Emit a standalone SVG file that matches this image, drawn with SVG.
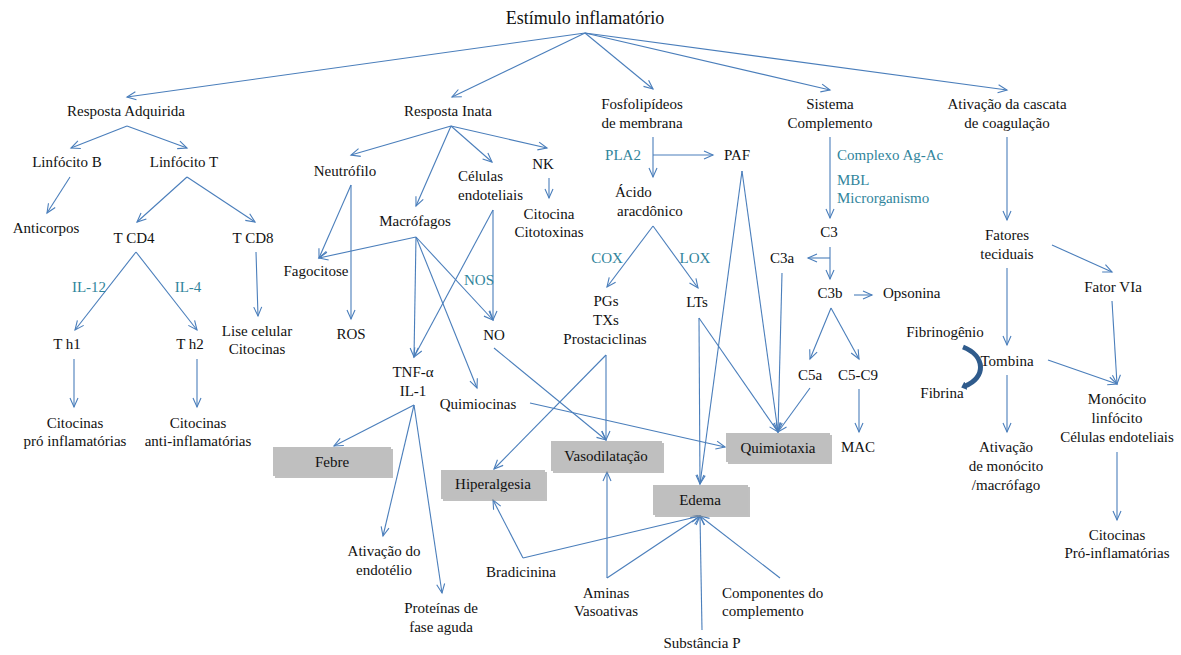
<svg xmlns="http://www.w3.org/2000/svg" width="1181" height="655" viewBox="0 0 1181 655" font-family="'Liberation Serif', 'Times New Roman', serif">
<defs>
<style>
.t{font-family:'Liberation Serif','Times New Roman',serif;font-size:15px;fill:#111;text-anchor:middle}
.s{text-anchor:start}
.teal{fill:#31859c}
.c line{stroke:#4a7ebb;stroke-width:1.1;fill:none;marker-end:url(#a)}
.box{fill:#bfbfbf}
.sh{fill:#8c8c8c;opacity:0.55}
</style>
<marker id="a" markerWidth="12" markerHeight="10" refX="10" refY="5" orient="auto" markerUnits="userSpaceOnUse" viewBox="0 0 12 10">
<path d="M1,1 L10,5 L1,9" fill="none" stroke="#4a7ebb" stroke-width="1.1"/>
</marker>
<marker id="b" markerWidth="8" markerHeight="9" refX="1" refY="4.5" orient="auto" markerUnits="userSpaceOnUse" viewBox="0 0 8 9">
<path d="M0,0 L5,4.5 L0,9 z" fill="#2f5b8c"/>
</marker>
</defs>
<rect width="1181" height="655" fill="#fff"/>

<g id="connectors" class="c">
<line x1="585" y1="33" x2="127" y2="97"/>
<line x1="585" y1="33" x2="452" y2="97"/>
<line x1="585" y1="33" x2="653" y2="89"/>
<line x1="585" y1="33" x2="830" y2="90"/>
<line x1="585" y1="33" x2="1007" y2="90"/>
<line x1="127" y1="126" x2="71" y2="148"/>
<line x1="127" y1="126" x2="187" y2="148"/>
<line x1="70" y1="177" x2="47" y2="213"/>
<line x1="187" y1="177" x2="137" y2="222"/>
<line x1="187" y1="177" x2="255" y2="222"/>
<line x1="136" y1="252" x2="75" y2="330"/>
<line x1="136" y1="252" x2="197" y2="330"/>
<line x1="256" y1="252" x2="258" y2="316"/>
<line x1="74" y1="359" x2="74" y2="407"/>
<line x1="197" y1="359" x2="197" y2="407"/>
<line x1="451" y1="126" x2="351" y2="155"/>
<line x1="451" y1="126" x2="416" y2="206"/>
<line x1="451" y1="126" x2="492" y2="162"/>
<line x1="451" y1="126" x2="547" y2="148"/>
<line x1="549" y1="178" x2="549" y2="198"/>
<line x1="351" y1="185" x2="319" y2="258"/>
<line x1="351" y1="185" x2="351" y2="319"/>
<line x1="416" y1="237" x2="319" y2="258"/>
<line x1="416" y1="237" x2="414" y2="357"/>
<line x1="416" y1="237" x2="477" y2="388"/>
<line x1="416" y1="237" x2="493" y2="320"/>
<line x1="493" y1="210" x2="414" y2="357"/>
<line x1="493" y1="210" x2="493" y2="320"/>
<line x1="414" y1="405" x2="334" y2="446"/>
<line x1="414" y1="405" x2="383" y2="536"/>
<line x1="414" y1="405" x2="442" y2="593"/>
<line x1="494" y1="348" x2="606" y2="440"/>
<line x1="530" y1="403" x2="725" y2="447"/>
<line x1="653" y1="137" x2="653" y2="177"/>
<line x1="653" y1="155" x2="713" y2="155"/>
<line x1="653" y1="226" x2="607" y2="287"/>
<line x1="653" y1="226" x2="698" y2="288"/>
<line x1="606" y1="355" x2="606" y2="440"/>
<line x1="606" y1="355" x2="494" y2="469"/>
<line x1="742" y1="171" x2="700" y2="484"/>
<line x1="742" y1="171" x2="778" y2="432"/>
<line x1="699" y1="318" x2="700" y2="484"/>
<line x1="699" y1="318" x2="778" y2="432"/>
<line x1="830" y1="137" x2="830" y2="218"/>
<line x1="830" y1="247" x2="830" y2="279"/>
<line x1="830" y1="258" x2="808" y2="258"/>
<line x1="782" y1="273" x2="778" y2="432"/>
<line x1="854" y1="295" x2="872" y2="295"/>
<line x1="831" y1="308" x2="810" y2="359"/>
<line x1="831" y1="308" x2="859" y2="359"/>
<line x1="810" y1="388" x2="778" y2="432"/>
<line x1="859" y1="389" x2="859" y2="432"/>
<line x1="1007" y1="137" x2="1007" y2="220"/>
<line x1="1007" y1="268" x2="1007" y2="345"/>
<line x1="1052" y1="245" x2="1112" y2="272"/>
<line x1="1112" y1="301" x2="1117" y2="384"/>
<line x1="1048" y1="360" x2="1117" y2="384"/>
<line x1="1007" y1="375" x2="1007" y2="432"/>
<line x1="1117" y1="452" x2="1117" y2="520"/>
<line x1="523" y1="558" x2="493" y2="500"/>
<line x1="523" y1="558" x2="700" y2="516"/>
<line x1="607" y1="578" x2="607" y2="472"/>
<line x1="607" y1="578" x2="700" y2="516"/>
<line x1="702" y1="630" x2="700" y2="516"/>
<line x1="780" y1="578" x2="700" y2="516"/>
<path d="M963,347 C986,356 986,378 965,386" fill="none" stroke="#2f5b8c" stroke-width="5" marker-end="url(#b)"/>
</g>

<g id="n-titulo"><text class="t" x="585" y="24" style="font-size:18px">Estímulo inflamatório</text></g>
<g id="n-adquirida"><text class="t" x="126" y="116">Resposta Adquirida</text></g>
<g id="n-linfb"><text class="t" x="67" y="167">Linfócito B</text></g>
<g id="n-linft"><text class="t" x="184" y="167">Linfócito T</text></g>
<g id="n-anticorpos"><text class="t" x="46" y="233">Anticorpos</text></g>
<g id="n-tcd4"><text class="t" x="134" y="243">T CD4</text></g>
<g id="n-tcd8"><text class="t" x="253" y="243">T CD8</text></g>
<g id="l-il12"><text class="t teal" x="89" y="292">IL-12</text></g>
<g id="l-il4"><text class="t teal" x="188" y="292">IL-4</text></g>
<g id="n-th1"><text class="t" x="67" y="349">T h1</text></g>
<g id="n-th2"><text class="t" x="190" y="349">T h2</text></g>
<g id="n-lise"><text class="t" x="257" y="336">Lise celular<tspan x="257" dy="18">Citocinas</tspan></text></g>
<g id="n-cit-pro"><text class="t" x="75" y="428">Citocinas<tspan x="75" dy="18">pró inflamatórias</tspan></text></g>
<g id="n-cit-anti"><text class="t" x="198" y="428">Citocinas<tspan x="198" dy="18">anti-inflamatórias</tspan></text></g>

<g id="n-inata"><text class="t" x="448" y="116">Resposta Inata</text></g>
<g id="n-neutrofilo"><text class="t" x="345" y="176">Neutrófilo</text></g>
<g id="n-celulas"><text class="t s" x="458" y="181">Células<tspan x="458" dy="19">endoteliais</tspan></text></g>
<g id="n-nk"><text class="t" x="543" y="169">NK</text></g>
<g id="n-citocina"><text class="t" x="549" y="219">Citocina<tspan x="549" dy="18">Citotoxinas</tspan></text></g>
<g id="n-macrofagos"><text class="t" x="415" y="226">Macrófagos</text></g>
<g id="n-fagocitose"><text class="t" x="316" y="276">Fagocitose</text></g>
<g id="n-ros"><text class="t" x="351" y="339">ROS</text></g>
<g id="l-nos"><text class="t teal" x="479" y="285">NOS</text></g>
<g id="n-no"><text class="t" x="494" y="340">NO</text></g>
<g id="n-tnf"><text class="t" x="413" y="377">TNF-α<tspan x="413" dy="19">IL-1</tspan></text></g>
<g id="n-quimiocinas"><text class="t" x="478" y="409">Quimiocinas</text></g>
<g id="n-ativ-endot"><text class="t" x="384" y="556">Ativação do<tspan x="384" dy="19">endotélio</tspan></text></g>
<g id="n-proteinas"><text class="t" x="441" y="613">Proteínas de<tspan x="441" dy="19">fase aguda</tspan></text></g>
<g id="n-bradicinina"><text class="t" x="521" y="577">Bradicinina</text></g>
<g id="n-aminas"><text class="t" x="606" y="598">Aminas<tspan x="606" dy="18">Vasoativas</tspan></text></g>
<g id="n-substancia"><text class="t" x="702" y="648">Substância P</text></g>
<g id="n-componentes"><text class="t s" x="722" y="598">Componentes do<tspan x="722" dy="18">complemento</tspan></text></g>

<g id="n-fosfo"><text class="t" x="642" y="109">Fosfolipídeos<tspan x="642" dy="19">de membrana</tspan></text></g>
<g id="l-pla2"><text class="t teal" x="623" y="160">PLA2</text></g>
<g id="n-paf"><text class="t" x="737" y="160">PAF</text></g>
<g id="n-acido"><text class="t s" x="615" y="197">Ácido<tspan x="617" dy="19">aracdônico</tspan></text></g>
<g id="l-cox"><text class="t teal" x="607" y="263">COX</text></g>
<g id="l-lox"><text class="t teal" x="695" y="263">LOX</text></g>
<g id="n-pgs"><text class="t" x="606" y="306">PGs<tspan x="606" dy="19">TXs</tspan><tspan x="605" dy="19">Prostaciclinas</tspan></text></g>
<g id="n-lts"><text class="t" x="697" y="307">LTs</text></g>

<g id="n-sistema"><text class="t" x="830" y="109">Sistema<tspan x="830" dy="19">Complemento</tspan></text></g>
<g id="l-complexo"><text class="t s teal" x="837" y="160">Complexo Ag-Ac</text></g>
<g id="l-mbl"><text class="t s teal" x="837" y="185">MBL<tspan x="837" dy="18">Microrganismo</tspan></text></g>
<g id="n-c3"><text class="t" x="829" y="237">C3</text></g>
<g id="n-c3a"><text class="t" x="782" y="263">C3a</text></g>
<g id="n-c3b"><text class="t" x="830" y="298">C3b</text></g>
<g id="n-opsonina"><text class="t s" x="883" y="298">Opsonina</text></g>
<g id="n-c5a"><text class="t" x="810" y="380">C5a</text></g>
<g id="n-c5c9"><text class="t" x="858" y="380">C5-C9</text></g>
<g id="n-mac"><text class="t" x="858" y="452">MAC</text></g>

<g id="n-cascata"><text class="t" x="1007" y="109">Ativação da cascata<tspan x="1007" dy="19">de coagulação</tspan></text></g>
<g id="n-fatores"><text class="t" x="1007" y="240">Fatores<tspan x="1007" dy="19">teciduais</tspan></text></g>
<g id="n-fator7"><text class="t" x="1113" y="292">Fator VIa</text></g>
<g id="n-fibrinogenio"><text class="t" x="945" y="337">Fibrinogênio</text></g>
<g id="n-fibrina"><text class="t" x="942" y="398">Fibrina</text></g>
<g id="n-tombina"><text class="t" x="1007" y="366">Tombina</text></g>
<g id="n-ativ-mono"><text class="t" x="1006" y="452">Ativação<tspan x="1006" dy="19">de monócito</tspan><tspan x="1006" dy="19">/macrófago</tspan></text></g>
<g id="n-monocito"><text class="t" x="1117" y="404">Monócito<tspan x="1117" dy="19">linfócito</tspan><tspan x="1117" dy="19">Células endoteliais</tspan></text></g>
<g id="n-cit-pro2"><text class="t" x="1117" y="540">Citocinas<tspan x="1117" dy="18">Pró-inflamatórias</tspan></text></g>

<g id="n-febre"><rect class="sh" x="275" y="449" width="118" height="29"/><rect class="box" x="273" y="447" width="118" height="29"/><text class="t" x="332" y="467">Febre</text></g>
<g id="n-hiperalgesia"><rect class="sh" x="443" y="472" width="104" height="29"/><rect class="box" x="441" y="470" width="104" height="29"/><text class="t" x="493" y="489">Hiperalgesia</text></g>
<g id="n-vasodilatacao"><rect class="sh" x="553" y="443" width="111" height="30"/><rect class="box" x="551" y="441" width="111" height="30"/><text class="t" x="606" y="461">Vasodilatação</text></g>
<g id="n-edema"><rect class="sh" x="655" y="487" width="95" height="30"/><rect class="box" x="653" y="485" width="95" height="30"/><text class="t" x="700" y="505">Edema</text></g>
<g id="n-quimiotaxia"><rect class="sh" x="728" y="435" width="104" height="29"/><rect class="box" x="726" y="433" width="104" height="29"/><text class="t" x="778" y="453">Quimiotaxia</text></g>
</svg>
